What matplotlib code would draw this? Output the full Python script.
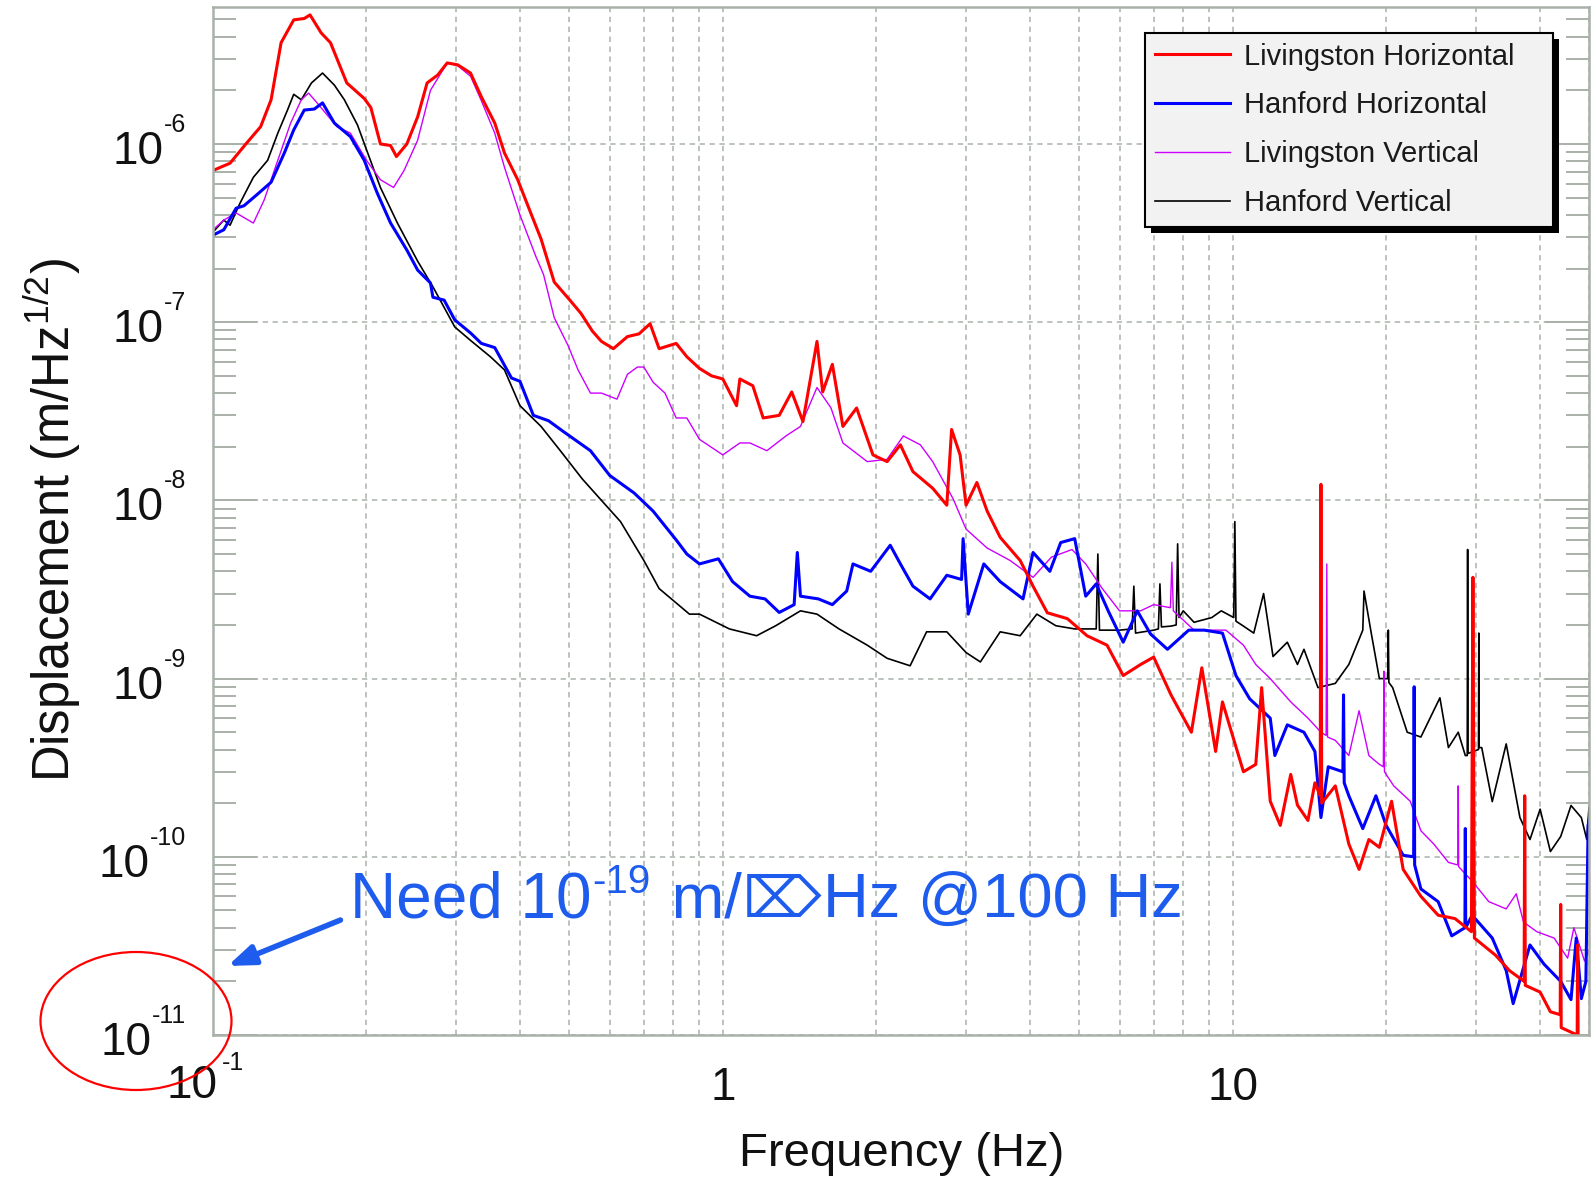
import matplotlib
matplotlib.use("Agg")
import matplotlib.pyplot as plt
from matplotlib.patches import Ellipse, FancyArrowPatch
from matplotlib.ticker import LogLocator, NullFormatter, FixedLocator
import matplotlib.patheffects as pe

# ---------------- data ----------------
labels = ["Livingston Horizontal", "Hanford Horizontal",
          "Livingston Vertical", "Hanford Vertical"]

freq_lh = [0.1, 0.108, 0.116, 0.124, 0.130, 0.136, 0.144, 0.151, 0.155, 0.163,
           0.170, 0.183, 0.198, 0.204, 0.213, 0.223, 0.229, 0.240, 0.252, 0.263,
           0.276, 0.288, 0.302, 0.32, 0.336, 0.357, 0.373, 0.396, 0.42, 0.44,
           0.467, 0.50, 0.527, 0.555, 0.578, 0.61, 0.65, 0.685, 0.72, 0.75,
           0.81, 0.85, 0.90, 0.95, 1.0, 1.064, 1.08, 1.145, 1.2, 1.29,
           1.365, 1.436, 1.53, 1.57, 1.64, 1.72, 1.83, 1.97, 2.10, 2.23,
           2.36, 2.58, 2.75, 2.81, 2.92, 3.0, 3.15, 3.3, 3.5, 3.83,
           4.06, 4.33, 4.74, 5.18, 5.67, 6.1, 6.6, 7.0, 7.57, 8.3,
           8.7, 9.26, 9.55, 10.5, 11.1, 11.4, 11.85, 12.4, 13.0, 13.4,
           14.05, 14.5, 14.85, 14.9, 14.95, 15.9, 16.9, 17.7, 18.5, 19.4,
           20.5, 21.6, 23.4, 25.3, 27.3, 29.4, 29.6, 29.8, 32.8, 34.9,
           37.3, 37.4, 37.5, 40.1, 42.0, 43.9, 44.0, 44.1, 47.4, 47.5,
           47.6, 50.0]
disp_lh = [7.1e-7, 7.8e-7, 1.0e-6, 1.25e-6, 1.77e-6, 3.7e-6, 4.97e-6, 5.06e-6, 5.3e-6, 4.2e-6,
           3.7e-6, 2.2e-6, 1.8e-6, 1.6e-6, 1.0e-6, 9.8e-7, 8.5e-7, 1.0e-6, 1.42e-6, 2.2e-6,
           2.44e-6, 2.85e-6, 2.78e-6, 2.5e-6, 1.84e-6, 1.31e-6, 8.9e-7, 6.3e-7, 4.1e-7, 2.93e-7,
           1.68e-7, 1.34e-7, 1.12e-7, 8.9e-8, 7.8e-8, 7.1e-8, 8.3e-8, 8.6e-8, 9.8e-8, 7.1e-8,
           7.6e-8, 6.4e-8, 5.5e-8, 5.0e-8, 4.8e-8, 3.4e-8, 4.8e-8, 4.4e-8, 2.9e-8, 3.0e-8,
           4.06e-8, 2.77e-8, 7.8e-8, 4.06e-8, 5.8e-8, 2.6e-8, 3.3e-8, 1.8e-8, 1.65e-8, 2.05e-8,
           1.45e-8, 1.17e-8, 9.4e-9, 2.5e-8, 1.8e-8, 9.4e-9, 1.26e-8, 8.7e-9, 6.2e-9, 4.6e-9,
           3.3e-9, 2.34e-9, 2.17e-9, 1.74e-9, 1.54e-9, 1.04e-9, 1.2e-9, 1.32e-9, 8.1e-10, 5.0e-10,
           1.15e-9, 3.9e-10, 7.4e-10, 3.0e-10, 3.3e-10, 8.9e-10, 2.05e-10, 1.5e-10, 2.9e-10, 1.95e-10,
           1.6e-10, 2.6e-10, 2.2e-10, 1.23e-8, 2.0e-10, 2.5e-10, 1.18e-10, 8.5e-11, 1.25e-10, 1.13e-10,
           2.05e-10, 8.5e-11, 6.0e-11, 4.7e-11, 4.5e-11, 3.8e-11, 3.7e-9, 3.5e-11, 2.8e-11, 2.3e-11,
           2.0e-11, 2.2e-10, 1.9e-11, 1.74e-11, 1.35e-11, 1.3e-11, 5.4e-11, 1.1e-11, 1.0e-11, 3.2e-11,
           1.0e-11, 9.0e-12]

freq_hh = [0.1, 0.105, 0.111, 0.115, 0.122, 0.13, 0.138, 0.144, 0.151, 0.158,
           0.164, 0.173, 0.186, 0.198, 0.21, 0.223, 0.24, 0.252, 0.267, 0.27,
           0.284, 0.298, 0.32, 0.336, 0.357, 0.385, 0.40, 0.425, 0.455, 0.49,
           0.55, 0.6, 0.67, 0.73, 0.81, 0.85, 0.9, 0.98, 1.045, 1.13,
           1.21, 1.29, 1.38, 1.40, 1.42, 1.54, 1.64, 1.75, 1.8, 1.95,
           2.13, 2.23, 2.36, 2.55, 2.75, 2.94, 2.96, 3.03, 3.25, 3.5,
           3.88, 4.06, 4.38, 4.6, 4.9, 5.15, 5.4, 5.7, 6.1, 6.5,
           6.9, 7.45, 8.2, 8.8, 9.55, 10.15, 10.8, 11.85, 12.1, 12.8,
           13.8, 14.5, 14.9, 15.4, 16.45, 16.5, 16.55, 16.9, 18.0, 19.1,
           20.0, 21.6, 22.65, 22.7, 22.75, 23.4, 25.3, 26.9, 28.55, 28.6,
           28.65, 29.5, 32.3, 34.4, 35.5, 38.3, 40.8, 44.0, 46.1, 47.2,
           48.3, 49.3, 49.8, 50.0]
disp_hh = [3.08e-7, 3.3e-7, 4.36e-7, 4.5e-7, 5.2e-7, 6.1e-7, 8.9e-7, 1.2e-6, 1.55e-6, 1.57e-6,
           1.7e-6, 1.31e-6, 1.1e-6, 8.1e-7, 5.3e-7, 3.6e-7, 2.54e-7, 1.96e-7, 1.66e-7, 1.38e-7,
           1.33e-7, 1.03e-7, 8.7e-8, 7.6e-8, 7.2e-8, 4.86e-8, 4.66e-8, 3.0e-8, 2.8e-8, 2.4e-8,
           1.9e-8, 1.38e-8, 1.1e-8, 8.7e-9, 6.0e-9, 5.0e-9, 4.4e-9, 4.7e-9, 3.5e-9, 2.9e-9,
           2.8e-9, 2.35e-9, 2.6e-9, 5.1e-9, 2.9e-9, 2.8e-9, 2.6e-9, 3.1e-9, 4.4e-9, 4.0e-9,
           5.6e-9, 4.4e-9, 3.3e-9, 2.8e-9, 3.8e-9, 3.6e-9, 6.1e-9, 2.3e-9, 4.4e-9, 3.5e-9,
           2.8e-9, 5.1e-9, 4.0e-9, 5.8e-9, 6.1e-9, 2.9e-9, 3.4e-9, 2.4e-9, 1.6e-9, 2.4e-9,
           1.78e-9, 1.46e-9, 1.87e-9, 1.87e-9, 1.8e-9, 1.04e-9, 7.7e-10, 6.0e-10, 3.7e-10, 5.5e-10,
           5.0e-10, 3.9e-10, 1.66e-10, 3.2e-10, 3.0e-10, 8.1e-10, 2.6e-10, 2.2e-10, 1.44e-10, 2.2e-10,
           1.5e-10, 1.02e-10, 1.0e-10, 9.0e-10, 9.0e-11, 6.6e-11, 5.6e-11, 3.6e-11, 4.0e-11, 1.44e-10,
           4.0e-11, 4.7e-11, 3.5e-11, 2.3e-11, 1.5e-11, 3.2e-11, 2.5e-11, 2.0e-11, 1.58e-11, 3.5e-11,
           1.6e-11, 2.0e-11, 1.5e-10, 1.6e-10]

freq_lv = [0.1, 0.105, 0.111, 0.12, 0.126, 0.134, 0.142, 0.149, 0.154, 0.16,
           0.175, 0.186, 0.2, 0.213, 0.226, 0.237, 0.252, 0.267, 0.288, 0.302,
           0.32, 0.336, 0.357, 0.373, 0.40, 0.43, 0.445, 0.467, 0.497, 0.52,
           0.55, 0.578, 0.62, 0.65, 0.68, 0.70, 0.73, 0.77, 0.81, 0.85,
           0.9, 1.0, 1.08, 1.13, 1.22, 1.33, 1.42, 1.53, 1.63, 1.72,
           1.92, 2.1, 2.26, 2.44, 2.58, 2.83, 3.0, 3.3, 3.66, 4.06,
           4.41, 4.84, 5.15, 5.55, 6.0, 6.6, 7.0, 7.55, 7.6, 7.65,
           8.4, 9.1, 9.7, 10.5, 11.1, 11.85, 13.0, 14.05, 14.9, 15.25,
           15.3, 15.35, 15.9, 16.9, 17.7, 18.5, 19.4, 19.75, 19.8, 19.85,
           20.7, 22.3, 23.4, 24.8, 26.5, 27.65, 27.7, 27.75, 29.5, 31.8,
           34.4, 36.0, 37.2, 39.5, 42.7, 45.4, 46.7, 49.0, 50.0]
disp_lv = [3.3e-7, 3.74e-7, 4.1e-7, 3.6e-7, 4.85e-7, 8.1e-7, 1.31e-6, 1.77e-6, 1.93e-6, 1.7e-6,
           1.25e-6, 1.15e-6, 8.1e-7, 6.3e-7, 5.7e-7, 7.1e-7, 1.05e-6, 2.0e-6, 2.85e-6, 2.75e-6,
           2.4e-6, 1.75e-6, 1.15e-6, 7.4e-7, 4.0e-7, 2.33e-7, 1.85e-7, 1.06e-7, 7.4e-8, 5.4e-8,
           4.0e-8, 4.0e-8, 3.7e-8, 5.1e-8, 5.6e-8, 5.6e-8, 4.6e-8, 4.0e-8, 2.9e-8, 2.9e-8,
           2.2e-8, 1.8e-8, 2.1e-8, 2.1e-8, 1.9e-8, 2.3e-8, 2.6e-8, 4.3e-8, 3.3e-8, 2.1e-8,
           1.65e-8, 1.7e-8, 2.3e-8, 2.05e-8, 1.65e-8, 1.02e-8, 6.9e-9, 5.4e-9, 4.6e-9, 3.7e-9,
           4.8e-9, 5.3e-9, 4.4e-9, 3.2e-9, 2.4e-9, 2.4e-9, 2.6e-9, 2.5e-9, 4.5e-9, 2.4e-9,
           1.87e-9, 1.87e-9, 1.87e-9, 1.54e-9, 1.2e-9, 1.0e-9, 7.4e-10, 6.0e-10, 5.0e-10, 4.8e-10,
           4.4e-9, 4.7e-10, 4.5e-10, 3.7e-10, 6.6e-10, 3.7e-10, 3.3e-10, 3.2e-10, 1.1e-9, 3.0e-10,
           2.5e-10, 2.05e-10, 1.4e-10, 1.18e-10, 9.3e-11, 9.0e-11, 2.5e-10, 8.8e-11, 7.3e-11, 5.6e-11,
           5.1e-11, 6.2e-11, 4.3e-11, 3.8e-11, 3.5e-11, 2.7e-11, 4.0e-11, 2.6e-11, 3.0e-11]

freq_hv = [0.1, 0.105, 0.108, 0.113, 0.12, 0.128, 0.134, 0.14, 0.144, 0.149,
           0.156, 0.164, 0.173, 0.181, 0.192, 0.2, 0.213, 0.23, 0.252, 0.27,
           0.298, 0.32, 0.35, 0.373, 0.40, 0.44, 0.48, 0.53, 0.578, 0.63,
           0.70, 0.75, 0.86, 0.9, 1.03, 1.165, 1.27, 1.42, 1.53, 1.69,
           1.92, 2.1, 2.33, 2.51, 2.75, 3.0, 3.2, 3.5, 3.83, 4.13,
           4.5, 4.9, 5.4, 5.44, 5.48, 6.0, 6.35, 6.4, 6.45, 7.0,
           7.15, 7.2, 7.25, 7.57, 7.75, 7.8, 7.85, 8.0, 8.4, 9.1,
           9.5, 10.05, 10.1, 10.15, 10.5, 11.0, 11.5, 12.0, 12.8, 13.4,
           13.8, 14.7, 15.9, 16.9, 18.0, 18.1, 18.7, 19.4, 20.15, 20.2,
           20.25, 20.6, 22.0, 23.4, 25.5, 26.5, 27.7, 28.6, 28.85, 28.9,
           28.95, 30.35, 30.4, 30.45, 30.8, 32.3, 34.4, 36.6, 38.3, 40.1,
           42.0, 44.0, 46.1, 48.3, 49.5, 50.0]
disp_hv = [3.2e-7, 3.74e-7, 3.5e-7, 4.66e-7, 6.5e-7, 8.1e-7, 1.15e-6, 1.55e-6, 1.9e-6, 1.77e-6,
           2.2e-6, 2.5e-6, 2.14e-6, 1.77e-6, 1.28e-6, 9.3e-7, 5.7e-7, 3.6e-7, 2.2e-7, 1.58e-7,
           9.4e-8, 7.9e-8, 6.4e-8, 5.4e-8, 3.4e-8, 2.6e-8, 1.9e-8, 1.32e-8, 1.0e-8, 7.6e-9,
           4.6e-9, 3.2e-9, 2.3e-9, 2.3e-9, 1.9e-9, 1.74e-9, 1.98e-9, 2.4e-9, 2.3e-9, 1.9e-9,
           1.54e-9, 1.3e-9, 1.18e-9, 1.83e-9, 1.83e-9, 1.4e-9, 1.24e-9, 1.83e-9, 1.74e-9, 2.3e-9,
           1.98e-9, 1.9e-9, 1.9e-9, 5.0e-9, 1.87e-9, 1.87e-9, 1.9e-9, 3.3e-9, 1.8e-9, 1.87e-9,
           1.9e-9, 3.4e-9, 1.95e-9, 1.97e-9, 2.0e-9, 5.7e-9, 2.2e-9, 2.4e-9, 2.07e-9, 2.2e-9,
           2.4e-9, 2.2e-9, 7.6e-9, 2.1e-9, 1.97e-9, 1.8e-9, 3.0e-9, 1.33e-9, 1.6e-9, 1.2e-9,
           1.46e-9, 8.9e-10, 9.4e-10, 1.2e-9, 1.87e-9, 3.1e-9, 1.8e-9, 1.0e-9, 1.0e-9, 1.87e-9,
           9.5e-10, 8.9e-10, 5.0e-10, 4.7e-10, 7.8e-10, 4.1e-10, 5.0e-10, 3.7e-10, 3.7e-10, 5.3e-9,
           3.8e-10, 4.0e-10, 1.8e-9, 4.1e-10, 4.1e-10, 2.04e-10, 4.3e-10, 1.66e-10, 1.25e-10, 1.85e-10,
           1.07e-10, 1.3e-10, 1.94e-10, 1.66e-10, 1.25e-10, 1.9e-10]

y_decades = [-11, -10, -9, -8, -7, -6]
x_major = [0.1, 1, 10]

# ---------------- styling ----------------
plt.rcParams['font.family'] = ['Liberation Sans', 'DejaVu Sans']
plt.rcParams['mathtext.fontset'] = 'custom'
plt.rcParams['mathtext.rm'] = 'Liberation Sans'

W, H = 1592, 1178
fig = plt.figure(figsize=(W / 100, H / 100), dpi=100)
fig.patch.set_facecolor('white')
ax = fig.add_axes([213 / W, 1 - 1035 / H, (1589 - 213) / W, (1035 - 7) / H])
ax.set_xscale('log')
ax.set_yscale('log')
ax.set_xlim(0.1, 50)
ax.set_ylim(1e-11, 5.87e-6)

grid_c = '#a9b1a9'
ax.set_axisbelow(True)
ax.xaxis.set_major_locator(FixedLocator(x_major))
ax.xaxis.set_minor_locator(LogLocator(base=10, subs=range(2, 10), numticks=30))
ax.xaxis.set_major_formatter(NullFormatter())
ax.xaxis.set_minor_formatter(NullFormatter())
ax.yaxis.set_major_locator(FixedLocator([10.0 ** e for e in y_decades]))
ax.yaxis.set_minor_locator(LogLocator(base=10, subs=range(2, 10), numticks=30))
ax.yaxis.set_major_formatter(NullFormatter())
ax.yaxis.set_minor_formatter(NullFormatter())
ax.tick_params(axis='x', which='both', length=0)
ax.tick_params(axis='y', which='major', direction='in', length=32, width=1.4,
               color=grid_c, left=True, right=True)
ax.tick_params(axis='y', which='minor', direction='in', length=16.5, width=1.4,
               color=grid_c, left=True, right=True)
ax.grid(True, which='both', axis='x', color=grid_c, ls=(0, (3.5, 3)), lw=1.1)
ax.grid(True, which='major', axis='y', color=grid_c, ls=(0, (3.5, 3)), lw=1.1)
for s in ax.spines.values():
    s.set_color(grid_c)
    s.set_linewidth(1.8)

l_hv, = ax.plot(freq_hv, disp_hv, color='black', lw=1.2)
l_lv, = ax.plot(freq_lv, disp_lv, color='#cc00ff', lw=1.0)
l_hh, = ax.plot(freq_hh, disp_hh, color='#0000ff', lw=2.2)
l_lh, = ax.plot(freq_lh, disp_lh, color='#ff0000', lw=2.2)

leg = ax.legend([l_lh, l_hh, l_lv, l_hv], labels, loc='upper left', mode='expand',
                bbox_to_anchor=(1145 / W, 1 - 229.5 / H, 408 / W, 197 / H),
                bbox_transform=fig.transFigure,
                borderaxespad=0, fancybox=False, framealpha=1, facecolor='#f2f2f2',
                edgecolor='black', fontsize=21, handlelength=2.55, handletextpad=0.5,
                labelspacing=0.71, borderpad=0.35)
leg.get_frame().set_linewidth(1.5)
leg.get_frame().set_path_effects([
    pe.SimplePatchShadow(offset=(4.5, -4.5), shadow_rgbFace='black', alpha=1.0),
    pe.Normal()])
for t in leg.get_texts():
    t.set_color('#1a1a1a')

# ---------------- tick labels (10 with small exponent) ----------------
tick_c = '#111111'
exp_texts = []
for e in y_decades:
    t = ax.annotate(f"-{abs(e)}", xy=(0, 10.0 ** e), xycoords=('axes fraction', 'data'),
                    xytext=(-19.4, 8.6), textcoords='offset points', ha='right',
                    va='baseline', fontsize=18, color=tick_c, annotation_clip=False)
    exp_texts.append((e, t))

fig.canvas.draw()
r = fig.canvas.get_renderer()
for e, t in exp_texts:
    w_pt = t.get_window_extent(r).width * 72 / 100
    ax.annotate("10", xy=(0, 10.0 ** e), xycoords=('axes fraction', 'data'),
                xytext=(-19.4 - w_pt, -14.4), textcoords='offset points', ha='right',
                va='baseline', fontsize=33, color=tick_c, annotation_clip=False)

# x tick labels
ax.annotate("10", xy=(0.1, 0), xycoords=('data', 'axes fraction'), xytext=(3, -45.4),
            textcoords='offset points', ha='right', va='baseline', fontsize=33,
            color=tick_c, annotation_clip=False)
ax.annotate("-1", xy=(0.1, 0), xycoords=('data', 'axes fraction'), xytext=(6.5, -25.2),
            textcoords='offset points', ha='left', va='baseline', fontsize=18,
            color=tick_c, annotation_clip=False)
for xv, s in [(1, "1"), (10, "10")]:
    ax.annotate(s, xy=(xv, 0), xycoords=('data', 'axes fraction'), xytext=(0, -47),
                textcoords='offset points', ha='center', va='baseline', fontsize=33,
                color=tick_c, annotation_clip=False)

# axis labels
fig.text(902 / W, 1 - 1166 / H, "Frequency (Hz)", ha='center', va='baseline',
         fontsize=34, color=tick_c)
fig.text(52 / W, 1 - 520 / H, r"Displacement (m/Hz$^{\mathregular{1/2}}$)",
         rotation=90, ha='center', va='center', fontsize=36.5, color=tick_c)

# ---------------- annotation ----------------
blue = '#1d5ced'
base_y = H - 917
t1 = fig.text(350 / W, base_y / H, "Need 10", fontsize=46, color=blue,
              ha='left', va='baseline')
fig.canvas.draw()
x1 = t1.get_window_extent(r).x1
t2 = fig.text((x1 + 1) / W, (base_y + 24) / H, "-19", fontsize=29, color=blue,
              ha='left', va='baseline')
fig.canvas.draw()
x2 = t2.get_window_extent(r).x1
t3 = fig.text((x2 + 3) / W, base_y / H, " m/", fontsize=45.5, color=blue,
              ha='left', va='baseline')
fig.canvas.draw()
x3 = t3.get_window_extent(r).x1
t4 = fig.text((x3 + 1) / W, base_y / H, "\u2326", fontsize=40, color=blue,
              ha='left', va='baseline', family=['DejaVu Sans'])
fig.canvas.draw()
x4 = t4.get_window_extent(r).x1
fig.text((x4 + 2) / W, base_y / H, "Hz @100 Hz", fontsize=45.5, color=blue,
         ha='left', va='baseline')

arr = FancyArrowPatch((343 / W, 1 - 919 / H), (225 / W, 1 - 967 / H),
                      transform=fig.transFigure,
                      arrowstyle='-|>,head_length=0.8,head_width=0.3',
                      mutation_scale=20, lw=4, color=blue)
fig.add_artist(arr)

ell = Ellipse((136 / W, 1 - 1021 / H), 191 / W, 138 / H, transform=fig.transFigure,
              fill=False, edgecolor='red', lw=1.6)
fig.add_artist(ell)

fig.savefig('out.png', dpi=100)
